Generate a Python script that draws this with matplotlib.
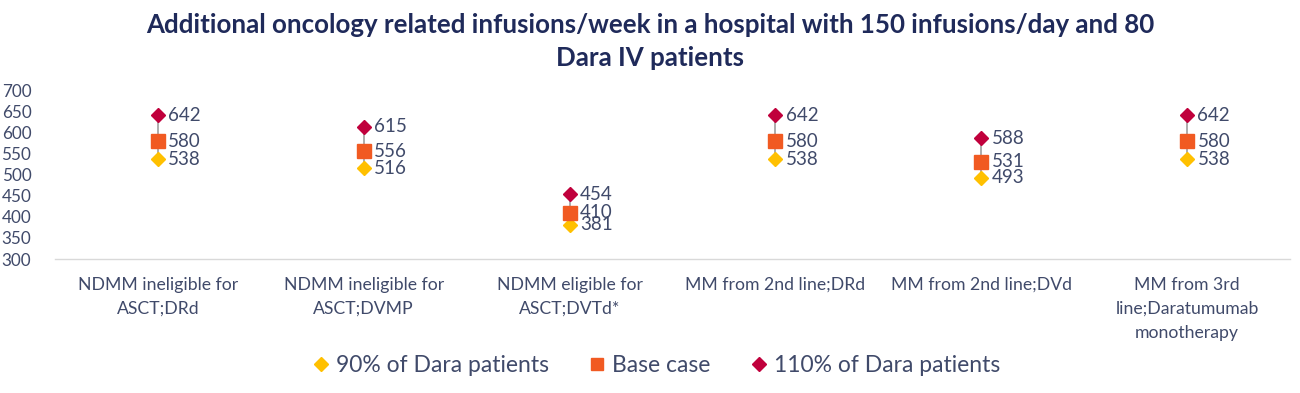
import matplotlib
matplotlib.use("Agg")
import matplotlib.pyplot as plt
from matplotlib.lines import Line2D

categories = [
    "NDMM ineligible for\nASCT;DRd",
    "NDMM ineligible for\nASCT;DVMP",
    "NDMM eligible for\nASCT;DVTd*",
    "MM from 2nd line;DRd",
    "MM from 2nd line;DVd",
    "MM from 3rd\nline;Daratumumab\nmonotherapy",
]
low_90 = [538, 516, 381, 538, 493, 538]
base = [580, 556, 410, 580, 531, 580]
high_110 = [642, 615, 454, 642, 588, 642]
yticks = [300, 350, 400, 450, 500, 550, 600, 650, 700]

title = "Additional oncology related infusions/week in a hospital with 150 infusions/day and 80\nDara IV patients"

TXT = "#404a6a"
TITLE_C = "#1f2a5a"
C_LOW = "#FFC000"
C_BASE = "#F15A22"
C_HIGH = "#C0003C"

plt.rcParams['font.family'] = ['Lato', 'DejaVu Sans']

fig = plt.figure(figsize=(13, 3.93), dpi=100)
ax = fig.add_axes([55/1300, 1-259/393, (1290-55)/1300, (259-91)/393])

x = list(range(len(categories)))
for i in x:
    ax.plot([i, i], [low_90[i], high_110[i]], color="#a6a6a6", lw=1.3, zorder=1)

ax.plot(x, low_90, linestyle="none", marker="D", ms=7, color=C_LOW, zorder=3)
ax.plot(x, base, linestyle="none", marker="s", ms=10, color=C_BASE, zorder=3)
ax.plot(x, high_110, linestyle="none", marker="D", ms=7, color=C_HIGH, zorder=3)

for i in x:
    for vals in (low_90, base, high_110):
        ax.annotate(str(vals[i]), (i, vals[i]), xytext=(7.5, 0), textcoords="offset points",
                    va="center", ha="left", fontsize=13.5, color=TXT)

ax.set_xlim(-0.5, len(categories) - 0.5)
ax.set_ylim(300, 700)
ax.set_yticks(yticks)
ax.set_xticks(x)
ax.set_xticklabels(categories, fontsize=12.7, color=TXT, linespacing=1.6)
ax.tick_params(axis="x", length=0, pad=13)
ax.tick_params(axis="y", length=0, pad=17, labelsize=12.3, labelcolor=TXT)
for s in ("top", "right", "left"):
    ax.spines[s].set_visible(False)
ax.spines["bottom"].set_color("#d9d9d9")
ax.spines["bottom"].set_linewidth(1)

fig.text(0.5, 1-13/393, title, ha="center", va="top", fontsize=18.6, fontweight="bold",
         color=TITLE_C, linespacing=1.45)

handles = [
    Line2D([], [], linestyle="none", marker="D", ms=7, color=C_LOW, label="90% of Dara patients"),
    Line2D([], [], linestyle="none", marker="s", ms=9, color=C_BASE, label="Base case"),
    Line2D([], [], linestyle="none", marker="D", ms=7, color=C_HIGH, label="110% of Dara patients"),
]
leg = fig.legend(handles=handles, loc="center", bbox_to_anchor=(655/1300, 1-366/393), ncol=3,
                 frameon=False, fontsize=16.5, handletextpad=0.15, columnspacing=1.6, handlelength=1.0)
for t in leg.get_texts():
    t.set_color(TXT)

fig.savefig("out.png", dpi=100, facecolor="white")
